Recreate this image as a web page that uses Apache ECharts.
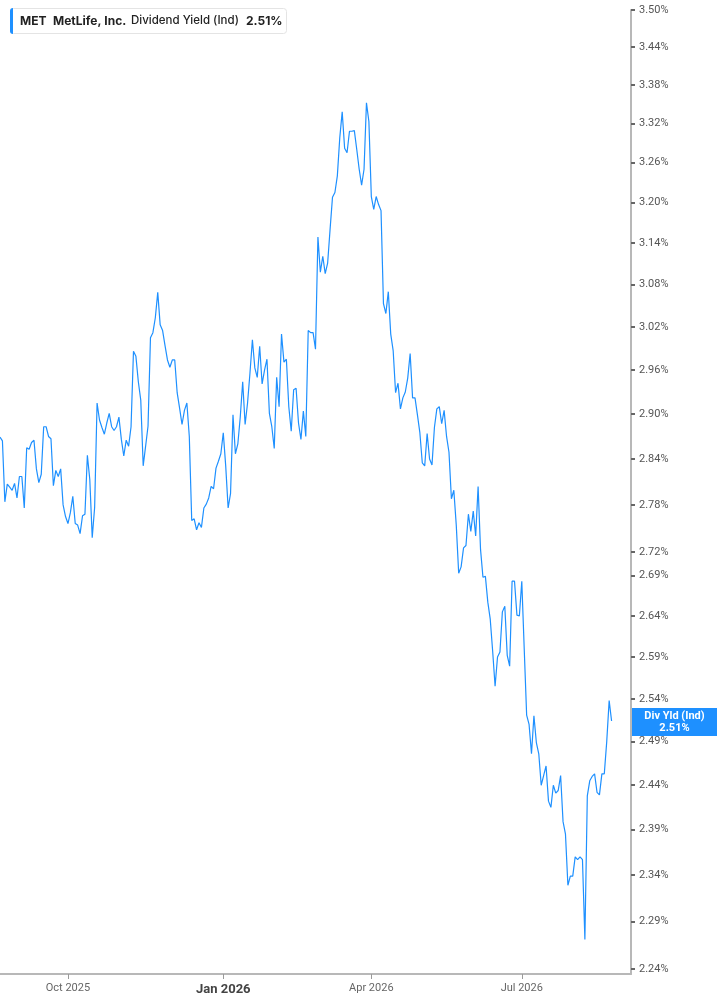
<!DOCTYPE html>
<html><head><meta charset="utf-8">
<script src="https://cdn.jsdelivr.net/npm/echarts@6/dist/echarts.min.js"></script>
<style>html,body{margin:0;padding:0;background:#fff}#c{width:717px;height:1005px}</style>
</head><body><div id="c"></div>
<script>
// ---- data ----
const startDate = [2025, 8, 21];
const holidays = ['2025-09-01','2025-11-27','2025-12-25','2026-01-01','2026-01-19','2026-02-16','2026-04-03','2026-05-25','2026-06-19','2026-07-03'];
const categoryCount = 261;
const yieldValues = [
2.869,2.864,2.784,2.807,2.803,2.799,2.808,2.789,2.817,2.817,2.776,2.855,2.853,2.862,2.865,2.827,2.809,2.820,2.883,2.883,
2.870,2.867,2.805,2.825,2.817,2.827,2.780,2.765,2.756,2.770,2.791,2.756,2.754,2.743,2.766,2.768,2.845,2.813,2.738,2.777,
2.915,2.892,2.882,2.873,2.888,2.901,2.883,2.878,2.883,2.896,2.866,2.844,2.865,2.857,2.883,
2.986,2.979,2.944,2.919,2.831,2.857,2.884,3.005,3.012,3.033,3.069,3.023,3.015,2.994,2.974,2.964,2.974,2.974,2.929,2.908,
2.886,2.905,2.915,2.870,2.760,2.762,2.748,2.757,2.751,2.776,2.781,2.789,2.804,2.801,2.828,2.837,2.847,2.875,2.831,2.776,
2.795,2.899,2.847,2.860,2.896,2.944,2.886,2.915,2.956,3.002,2.963,2.950,2.993,
2.941,2.960,2.975,2.901,2.883,2.854,2.950,2.910,3.010,2.971,2.975,2.910,2.877,2.933,2.935,2.888,2.866,2.904,2.870,3.015,
3.012,3.012,2.989,3.149,3.098,3.121,3.096,3.111,3.160,3.208,3.215,3.240,3.298,3.338,3.282,3.275,3.308,3.308,3.309,3.280,
3.250,3.226,3.250,3.352,3.323,3.209,3.190,3.209,3.197,3.188,3.053,3.039,3.070,3.010,2.987,2.929,2.942,2.907,2.922,2.930,
2.949,2.983,2.922,2.922,2.899,2.875,2.835,2.831,2.874,2.840,2.832,2.882,2.907,2.910,2.887,2.905,2.870,2.849,2.788,2.799,
2.754,2.693,2.701,2.725,2.728,2.768,2.746,2.772,2.740,2.804,2.723,2.688,2.689,2.657,2.636,2.597,2.555,2.590,2.596,2.645,
2.652,2.592,2.579,2.683,2.683,2.641,2.640,2.683,2.600,2.521,2.510,2.476,2.520,2.489,2.476,2.440,2.451,2.462,2.422,2.415,
2.440,2.431,2.434,2.451,2.399,2.385,2.329,2.339,2.339,2.360,2.357,2.360,2.357,2.271,2.428,2.445,2.450,2.453,2.432,2.429,
2.453,2.453,2.490,2.538,2.514
];
const yTickValues = [3.50,3.44,3.38,3.32,3.26,3.20,3.14,3.08,3.02,2.96,2.90,2.84,2.78,2.72,2.69,2.64,2.59,2.54,2.49,2.44,2.39,2.34,2.29,2.24];
const yMin = 2.2348, yMax = 3.50;
const monthNames = ['Jan','Feb','Mar','Apr','May','Jun','Jul','Aug','Sep','Oct','Nov','Dec'];
const seriesName = 'Div Yld (Ind)';

// ---- build categories (trading days) ----
function pad(n){return (n<10?'0':'')+n;}
const categories = [];
let d = new Date(Date.UTC(startDate[0], startDate[1]-1, startDate[2]));
while (categories.length < categoryCount) {
  const wd = d.getUTCDay();
  const s = d.getUTCFullYear()+'-'+pad(d.getUTCMonth()+1)+'-'+pad(d.getUTCDate());
  if (wd !== 0 && wd !== 6 && holidays.indexOf(s) < 0) categories.push(s);
  d = new Date(d.getTime() + 86400000);
}
const monthOf = s => +s.slice(5,7);
function isQuarterStart(i){
  const m = monthOf(categories[i]);
  if ([1,4,7,10].indexOf(m) < 0) return false;
  return i > 0 && monthOf(categories[i-1]) !== m;
}
const lastValue = yieldValues[yieldValues.length-1];
const logTicks = yTickValues.map(v => Math.log(v));

const chart = echarts.init(document.getElementById('c'), null, {renderer:'canvas'});
chart.setOption({
  animation:false,
  backgroundColor:'#fff',
  grid:{left:0, right:86, top:10, bottom:31, containLabel:false, outerBoundsMode:'none'},
  xAxis:{
    type:'category', data:categories, boundaryGap:false,
    axisLine:{show:true, lineStyle:{color:'#b8b8b8', width:2}},
    axisTick:{show:true, interval:(i)=>isQuarterStart(i), length:5, lineStyle:{color:'#9a9a9a', width:1}},
    splitLine:{show:false},
    axisLabel:{
      interval:(i)=>isQuarterStart(i), margin:9,
      formatter:(val)=>{
        const m = monthOf(val), y = val.slice(0,4);
        const t = monthNames[m-1]+' '+y;
        return m === 1 ? '{b|'+t+'}' : '{n|'+t+'}';
      },
      rich:{
        n:{color:'#666', fontSize:11, fontFamily:'Roboto'},
        b:{color:'#444', fontSize:13, fontWeight:'bold', fontFamily:'Roboto'}
      }
    }
  },
  yAxis:{
    type:'value', position:'right', min:Math.log(yMin), max:Math.log(yMax),
    splitLine:{show:false},
    axisLine:{show:true, lineStyle:{color:'#b8b8b8', width:2}},
    axisTick:{show:true, customValues:logTicks, length:4, lineStyle:{color:'#666', width:2}},
    axisLabel:{customValues:logTicks, formatter:(v)=>Math.exp(v).toFixed(2)+'%', color:'#555', fontSize:11, fontFamily:'Roboto', margin:8}
  },
  series:[{
    name:seriesName, type:'line', data:yieldValues.map(v=>Math.log(v)),
    symbol:'none', lineStyle:{color:'#1e90ff', width:1.2}, itemStyle:{color:'#1e90ff'},
    markLine:{
      silent:true, symbol:'none', animation:false,
      lineStyle:{color:'rgba(0,0,0,0)', width:0, type:'solid'},
      data:[{yAxis:Math.log(lastValue)}],
      label:{
        show:true, position:'end', distance:1, opacity:1, offset:[0,-3],
        formatter:'{t|'+seriesName+'}\n{t|'+lastValue.toFixed(2)+'%}',
        backgroundColor:'#1e90ff', padding:[2,3],
        rich:{t:{width:79, align:'center', color:'#fff', fontSize:11, fontWeight:'bold', fontFamily:'Roboto', lineHeight:12}}
      }
    }
  }],
  graphic:[
    {type:'rect', z:100, shape:{x:10.5,y:8.5,width:276,height:25,r:3}, style:{fill:'#fff', stroke:'#e4e4e4', lineWidth:1}},
    {type:'rect', z:101, shape:{x:10,y:8,width:3,height:26,r:[3,0,0,3]}, style:{fill:'#1e90ff'}},
    {type:'text', z:102, x:20, y:21, style:{text:'MET', fontSize:12, fontWeight:'bold', fontFamily:'Inter', fill:'#222', verticalAlign:'middle'}},
    {type:'text', z:102, x:53, y:21, style:{text:'MetLife, Inc.', fontSize:12, fontWeight:'bold', fontFamily:'Inter', fill:'#222', verticalAlign:'middle'}},
    {type:'text', z:102, x:131, y:21, style:{text:'Dividend Yield (Ind)', fontSize:11.5, fontWeight:500, fontFamily:'Inter', fill:'#222', verticalAlign:'middle'}},
    {type:'text', z:102, x:246, y:21, style:{text:lastValue.toFixed(2)+'%', fontSize:12, fontWeight:'bold', fontFamily:'Inter', fill:'#222', verticalAlign:'middle'}}
  ]
});
</script>
</body></html>
